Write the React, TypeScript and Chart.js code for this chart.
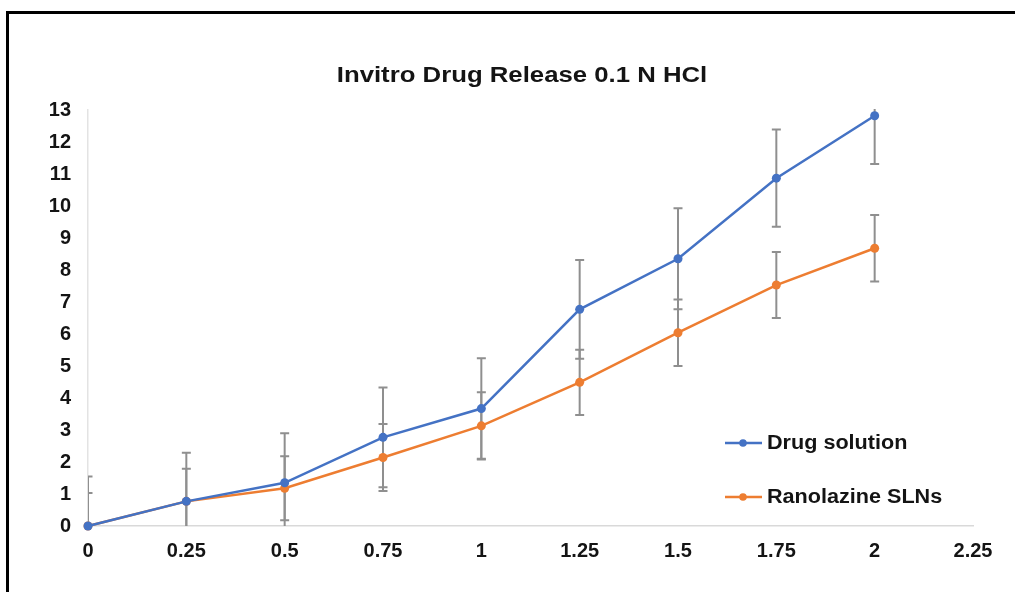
import React, { useEffect, useRef } from "react";
import { Chart, registerables } from "chart.js";

Chart.register(...registerables);

const chartTitle = "Invitro Drug Release 0.1 N HCl";
const timeHours = [0, 0.25, 0.5, 0.75, 1, 1.25, 1.5, 1.75, 2];
const drugSolution = [0, 0.77, 1.35, 2.77, 3.67, 6.77, 8.35, 10.87, 12.82];
const ranolazineSLNs = [0, 0.77, 1.18, 2.14, 3.13, 4.49, 6.04, 7.53, 8.68];
const drugSolutionErr = [1.55, 1.52, 1.55, 1.56, 1.57, 1.54, 1.58, 1.52, 1.51];
const ranolazineErr = [1.03, 1.02, 1.0, 1.05, 1.05, 1.02, 1.04, 1.03, 1.04];
const xTickLabels = ["0", "0.25", "0.5", "0.75", "1", "1.25", "1.5", "1.75", "2", "2.25"];
const seriesLabels = ["Drug solution", "Ranolazine SLNs"];
const seriesColors = ["#4472C4", "#ED7D31"];

const FONT = "'Liberation Sans', Arial, sans-serif";

export default function App() {
  const canvasRef = useRef<HTMLCanvasElement | null>(null);

  useEffect(() => {
    const canvas = canvasRef.current;
    if (!canvas) return;
    const errs = [drugSolutionErr, ranolazineErr];

    const errorBarPlugin = {
      id: "errorBars",
      beforeDatasetsDraw(chart: any) {
        const { ctx, chartArea, scales } = chart;
        ctx.save();
        ctx.beginPath();
        ctx.rect(chartArea.left, chartArea.top - 1, chartArea.right - chartArea.left, chartArea.bottom - chartArea.top + 1);
        ctx.clip();
        ctx.strokeStyle = "#8f8f8f";
        ctx.lineWidth = 2;
        chart.data.datasets.forEach((ds: any, di: number) => {
          ds.data.forEach((pt: any, i: number) => {
            const e = errs[di][i];
            const x = scales.x.getPixelForValue(pt.x);
            const yT = scales.y.getPixelForValue(pt.y + e);
            const yB = scales.y.getPixelForValue(pt.y - e);
            ctx.beginPath();
            ctx.moveTo(x, yT);
            ctx.lineTo(x, yB);
            ctx.moveTo(x - 4.5, yT);
            ctx.lineTo(x + 4.5, yT);
            ctx.moveTo(x - 4.5, yB);
            ctx.lineTo(x + 4.5, yB);
            ctx.stroke();
          });
        });
        ctx.restore();
      },
    };

    const titleLegendPlugin = {
      id: "titleLegend",
      afterDraw(chart: any) {
        const { ctx } = chart;
        ctx.save();
        ctx.fillStyle = "#141414";
        ctx.font = `bold 22px ${FONT}`;
        ctx.textAlign = "center";
        ctx.textBaseline = "middle";
        ctx.translate(522, 76);
        ctx.scale(1.17, 1);
        ctx.fillText(chartTitle, 0, 0);
        ctx.restore();

        const rows = [443, 497];
        chart.data.datasets.forEach((ds: any, di: number) => {
          const y = rows[di];
          ctx.save();
          ctx.strokeStyle = ds.borderColor;
          ctx.lineWidth = 2.5;
          ctx.beginPath();
          ctx.moveTo(725, y);
          ctx.lineTo(762, y);
          ctx.stroke();
          ctx.fillStyle = ds.borderColor;
          ctx.beginPath();
          ctx.arc(743, y, 3.8, 0, Math.PI * 2);
          ctx.fill();
          ctx.fillStyle = "#141414";
          ctx.font = `bold 20px ${FONT}`;
          ctx.textAlign = "left";
          ctx.textBaseline = "middle";
          ctx.translate(767, y);
          ctx.scale(1.08, 1);
          ctx.fillText(ds.label, 0, 0);
          ctx.restore();
        });
      },
    };

    const series = [drugSolution, ranolazineSLNs];
    const chart = new Chart(canvas, {
      type: "line",
      data: {
        datasets: series.map((vals, di) => ({
          label: seriesLabels[di],
          data: timeHours.map((t, i) => ({ x: t, y: vals[i] })),
          borderColor: seriesColors[di],
          backgroundColor: seriesColors[di],
          pointBackgroundColor: seriesColors[di],
          pointBorderColor: seriesColors[di],
          borderWidth: 2.5,
          pointRadius: 4.5,
          pointBorderWidth: 0,
          tension: 0,
          fill: false,
          clip: 8,
        })),
      },
      options: {
        responsive: false,
        animation: false,
        events: [],
        layout: { padding: { top: 110, left: 8, right: 42, bottom: 16 } },
        plugins: {
          legend: { display: false },
          title: { display: false },
          tooltip: { enabled: false },
        },
        scales: {
          x: {
            type: "linear",
            min: 0,
            max: 2.25,
            afterFit(scale: any) {
              scale.height = 50;
            },
            ticks: {
              stepSize: 0.25,
              autoSkip: false,
              maxRotation: 0,
              padding: 13,
              color: "#141414",
              font: { family: FONT, size: 20, weight: "bold" },
              callback: (_v: any, i: number) => xTickLabels[i],
            },
            grid: { display: false, drawTicks: false },
            border: { display: true, color: "#d9d9d9", width: 1.5 },
          },
          y: {
            type: "linear",
            min: 0,
            max: 13,
            afterFit(scale: any) {
              scale.width = 80;
            },
            ticks: {
              stepSize: 1,
              autoSkip: false,
              padding: 17,
              color: "#141414",
              font: { family: FONT, size: 20, weight: "bold" },
            },
            grid: { display: false, drawTicks: false },
            border: { display: true, color: "#e3e3e3", width: 1.5 },
          },
        },
      },
      plugins: [errorBarPlugin, titleLegendPlugin],
    } as any);

    return () => chart.destroy();
  }, []);

  return (
    <div
      style={{
        position: "fixed",
        left: 0,
        top: 0,
        width: 1015,
        height: 592,
        overflow: "hidden",
        background: "#ffffff",
      }}
    >
      <div
        style={{
          position: "absolute",
          left: 6,
          top: 11,
          width: 1200,
          height: 800,
          border: "3px solid #000000",
          boxSizing: "border-box",
        }}
      />
      <canvas
        ref={canvasRef}
        width={1015}
        height={592}
        style={{ position: "absolute", left: 0, top: 0, width: 1015, height: 592 }}
      />
    </div>
  );
}
